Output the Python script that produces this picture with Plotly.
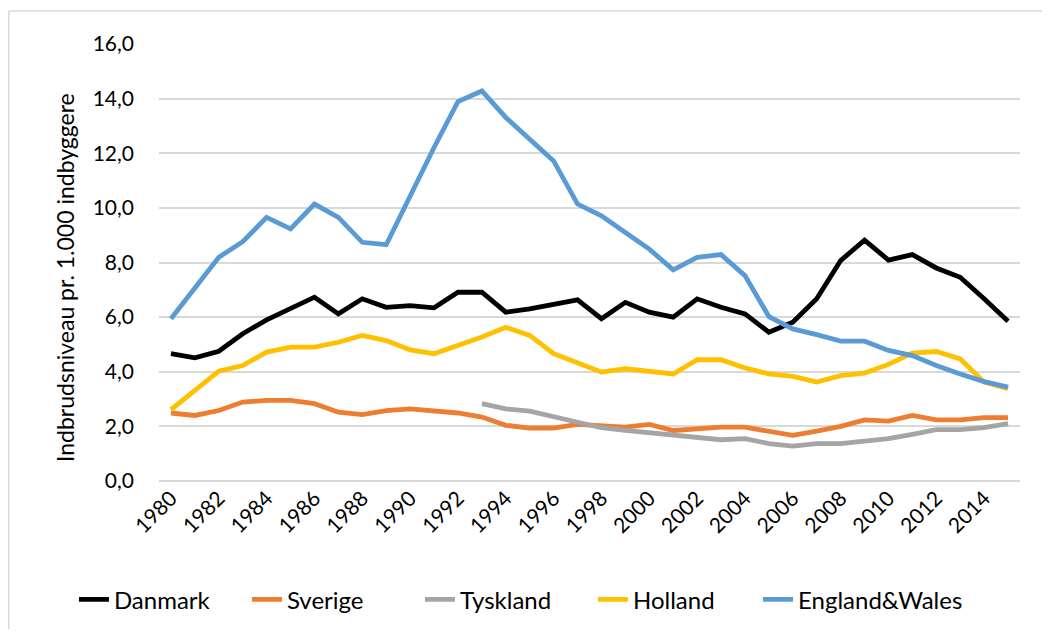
import plotly.graph_objects as go

years = list(range(1980, 2016))

danmark = [4.66, 4.51, 4.75, 5.39, 5.90, 6.30, 6.73, 6.12, 6.67, 6.36,
           6.42, 6.34, 6.91, 6.91, 6.18, 6.30, 6.48, 6.63, 5.94, 6.54,
           6.18, 6.00, 6.67, 6.36, 6.12, 5.45, 5.81, 6.67, 8.07, 8.82,
           8.09, 8.29, 7.80, 7.46, 6.67, 5.85]

sverige = [2.49, 2.40, 2.58, 2.89, 2.95, 2.95, 2.83, 2.52, 2.43, 2.58,
           2.64, 2.56, 2.49, 2.34, 2.04, 1.94, 1.94, 2.07, 2.00, 1.97,
           2.07, 1.85, 1.91, 1.97, 1.97, 1.83, 1.67, 1.83, 2.00, 2.24,
           2.19, 2.40, 2.24, 2.24, 2.32, 2.32]

tyskland = [None] * 13 + [2.83, 2.64, 2.56, 2.36, 2.16, 1.95, 1.85,
                          1.76, 1.67, 1.61, 1.51, 1.55, 1.37, 1.28, 1.37,
                          1.37, 1.46, 1.55, 1.71, 1.88, 1.88, 1.95, 2.10]

holland = [2.61, 3.31, 4.02, 4.23, 4.72, 4.90, 4.90, 5.08, 5.33, 5.14,
           4.80, 4.66, 4.96, 5.27, 5.63, 5.33, 4.66, 4.31, 3.99, 4.11,
           4.02, 3.92, 4.44, 4.44, 4.14, 3.92, 3.83, 3.62, 3.86, 3.95,
           4.27, 4.68, 4.74, 4.47, 3.62, 3.38]

england_wales = [5.94, 7.09, 8.19, 8.76, 9.65, 9.23, 10.14, 9.65, 8.74, 8.65,
                 10.44, 12.21, 13.89, 14.28, 13.31, 12.52, 11.72, 10.14, 9.71, 9.10,
                 8.49, 7.73, 8.19, 8.29, 7.52, 6.02, 5.57, 5.36, 5.12, 5.12,
                 4.78, 4.59, 4.23, 3.92, 3.64, 3.44]

series_names = ["Danmark", "Sverige", "Tyskland", "Holland", "England&Wales"]
series_values = [danmark, sverige, tyskland, holland, england_wales]
series_colors = ["#000000", "#ED7D31", "#A5A5A5", "#FFC000", "#5B9BD5"]
series_legend = ["legend", "legend", "legend", "legend", "legend2"]

tick_years = list(range(1980, 2015, 2))
tick_labels = [str(y) for y in tick_years]

y_title = "Indbrudsniveau pr. 1.000 indbyggere"

FONT = "Lato"

fig = go.Figure()
for name, vals, col, lg in zip(series_names, series_values, series_colors, series_legend):
    fig.add_trace(go.Scatter(
        x=years, y=vals, name=name, mode="lines",
        line=dict(color=col, width=4.8),
        connectgaps=False, legend=lg,
    ))

legend_font = dict(family=FONT, size=24, color="#000000")

fig.update_layout(
    width=1034, height=621,
    margin=dict(l=151, r=22, t=36, b=148, autoexpand=False),
    paper_bgcolor="white", plot_bgcolor="white",
    separators=",.",
    font=dict(family=FONT, size=21, color="#000000"),
    showlegend=True,
    legend=dict(
        orientation="h", x=-0.0988, xanchor="left", y=-0.272, yanchor="middle",
        font=legend_font, traceorder="normal",
        entrywidth=128, entrywidthmode="pixels",
    ),
    legend2=dict(
        orientation="h", x=0.6957, xanchor="left", y=-0.272, yanchor="middle",
        font=legend_font, traceorder="normal",
    ),
    xaxis=dict(
        range=[1979.5, 2015.5],
        tickmode="array", tickvals=tick_years, ticktext=tick_labels,
        tickangle=-45, showgrid=False, zeroline=False, showline=False,
        ticks="", tickfont=dict(family=FONT, size=21, color="#000000"),
    ),
    yaxis=dict(
        range=[0, 16], dtick=2, tick0=0, tickformat=".1f",
        showgrid=True, gridcolor="#D9D9D9", gridwidth=1.5,
        zeroline=True, zerolinecolor="#D9D9D9", zerolinewidth=1.5,
        showline=False, ticks="", ticklabelstandoff=24,
        tickfont=dict(family=FONT, size=21, color="#000000"),
    ),
    annotations=[
        dict(text=y_title, xref="paper", yref="paper",
             x=-0.1092, y=0.4668, xanchor="center", yanchor="middle",
             textangle=-90, showarrow=False,
             font=dict(family=FONT, size=23, color="#000000")),
    ],
    shapes=[
        dict(type="line", xref="paper", yref="paper",
             x0=-0.1745, x1=-0.1745, y0=-0.4, y1=1.0755,
             line=dict(color="#D9D9D9", width=1.5)),
        dict(type="line", xref="paper", yref="paper",
             x0=-0.1745, x1=1.1, y0=1.0755, y1=1.0755,
             line=dict(color="#D9D9D9", width=1.5)),
    ],
)

fig.write_html("out.html")
